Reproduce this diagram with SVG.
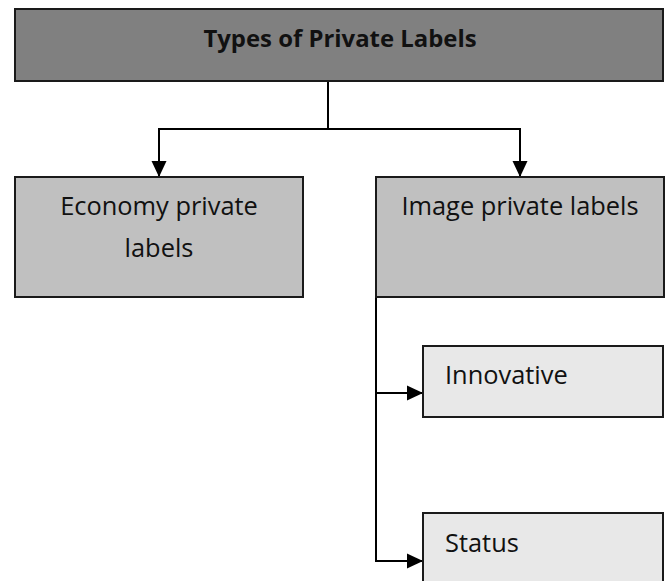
<svg xmlns="http://www.w3.org/2000/svg" width="668" height="581" viewBox="0 0 668 581">
  <style>
    .box { stroke: #1a1a1a; stroke-width: 2; }
    .root { fill: #808080; }
    .mid { fill: #c0c0c0; }
    .leaf { fill: #e8e8e8; }
    .t { font-family: "Open Sans", "Liberation Sans", sans-serif; font-size: 25.4px; fill: #111; }
    .title { font-weight: bold; font-size: 23.9px; }
    .wire { fill: none; stroke: #000; stroke-width: 2; }
  </style>
  <defs>
    <marker id="arrow" markerUnits="userSpaceOnUse" markerWidth="16" markerHeight="16" viewBox="0 0 16 16" refX="16" refY="8" orient="auto">
      <path d="M0,0.5 L16,8 L0,15.5 Z" fill="#000"/>
    </marker>
  </defs>

  <g id="connectors">
    <path class="wire" d="M328,81 V129"/>
    <path class="wire" d="M159,129 H520"/>
    <path class="wire" d="M159,128 V177" marker-end="url(#arrow)"/>
    <path class="wire" d="M520,128 V177" marker-end="url(#arrow)"/>
    <path class="wire" d="M376,297 V562"/>
    <path class="wire" d="M375,393 H423" marker-end="url(#arrow)"/>
    <path class="wire" d="M375,561 H423" marker-end="url(#arrow)"/>
  </g>

  <g id="types">
    <rect class="box root" x="15" y="9" width="648" height="72"/>
    <text class="t title" x="340" y="47" text-anchor="middle">Types of Private Labels</text>
  </g>

  <g id="economy">
    <rect class="box mid" x="15" y="177" width="288" height="120"/>
    <text class="t" x="159" y="215" text-anchor="middle">Economy private</text>
    <text class="t" x="159" y="257" text-anchor="middle">labels</text>
  </g>

  <g id="image">
    <rect class="box mid" x="376" y="177" width="288" height="120"/>
    <text class="t" x="520" y="215" text-anchor="middle">Image private labels</text>
  </g>

  <g id="innovative">
    <rect class="box leaf" x="423" y="346" width="240" height="71"/>
    <text class="t" x="445" y="384">Innovative</text>
  </g>

  <g id="status">
    <rect class="box leaf" x="423" y="513" width="240" height="80"/>
    <text class="t" x="445" y="552">Status</text>
  </g>
</svg>
